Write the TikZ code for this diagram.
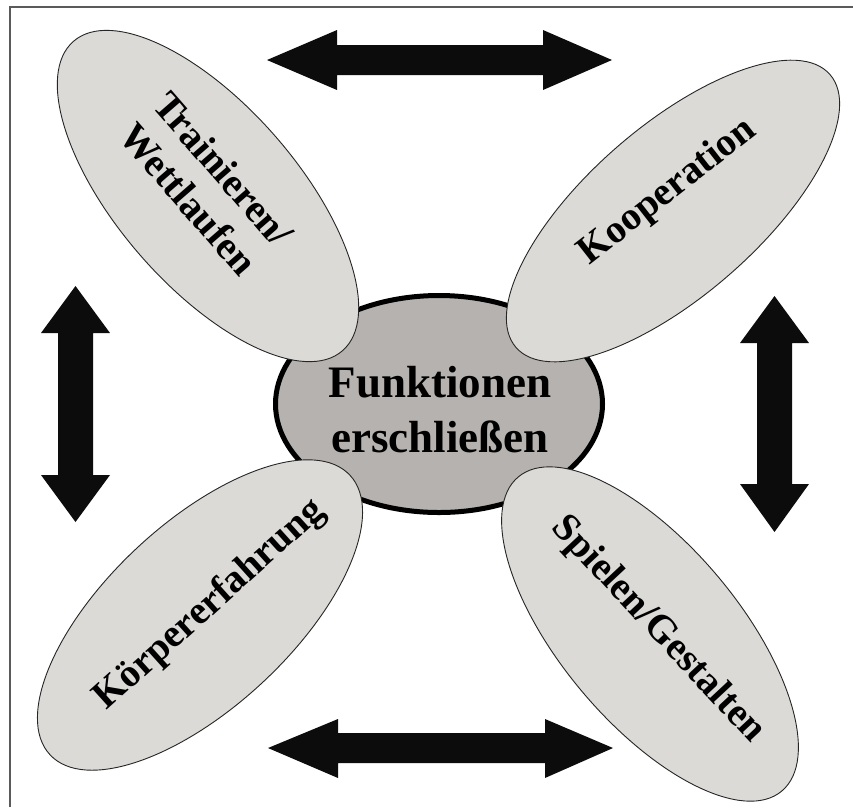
\documentclass[tikz,border=0pt]{standalone}
\usepackage{fontspec}
\setmainfont{Liberation Serif}
\usetikzlibrary{shapes.geometric}
\definecolor{petalfill}{RGB}{220,218,215}
\definecolor{corefill}{RGB}{182,178,175}
\definecolor{frameline}{RGB}{90,90,90}
\definecolor{arrowfill}{RGB}{12,12,12}
\begin{document}
\begin{tikzpicture}[x=1pt,y=-1pt,
  petal/.style={ellipse, draw=black!85, line width=0.9pt, fill=petalfill, inner sep=0pt},
  plabel/.style={font=\fontsize{39.5}{46}\selectfont\bfseries, align=center, text=black, inner sep=0pt},
  corelabel/.style={font=\fontsize{45}{55}\selectfont\bfseries, align=center, text=black, inner sep=0pt},
  dblarrow/.style={fill=arrowfill, draw=none}]
\useasboundingbox (0,0) rectangle (853,807);
\fill[white] (0,0) rectangle (853,807);
\draw[frameline, line width=2pt] (10,807) -- (10,7) -- (853,7);

% central ellipse
\node[ellipse, draw=black, line width=5pt, fill=corefill, minimum width=327pt, minimum height=217pt, inner sep=0pt] (core) at (439,404) {};

% petals
\node[petal, rotate=-49, minimum width=410pt, minimum height=180pt] (tl) at (208,196) {};
\node[petal, rotate=41, minimum width=416pt, minimum height=170pt] (tr) at (673,211) {};
\node[petal, rotate=43, minimum width=410pt, minimum height=184pt] (bl) at (200,615) {};
\node[petal, rotate=-50, minimum width=410pt, minimum height=178pt] (br) at (650,634) {};

% labels
\node[corelabel] (coretext) at (440,410) {Funktionen\\erschließen};
\node[plabel, rotate=-49] (tltext) at (206,184) {Trainieren/\\Wettlaufen};
\node[plabel, rotate=38] (trtext) at (668,192) {Kooperation};
\node[plabel, rotate=42] (bltext) at (210,605) {Körpererfahrung};
\node[plabel, rotate=-47] (brtext) at (658,630) {Spielen/Gestalten};

% double arrows
\fill[dblarrow] (267,60) -- (337,30) -- (337,45) -- (543,45) -- (543,30) -- (612,60) -- (543,90) -- (543,75) -- (337,75) -- (337,90) -- cycle;
\fill[dblarrow] (268,748) -- (338,719) -- (338,733) -- (545,733) -- (545,719) -- (613,748) -- (545,778) -- (545,763) -- (338,763) -- (338,778) -- cycle;
\fill[dblarrow] (75.5,286) -- (110,333) -- (93,333) -- (93,475) -- (110,475) -- (75.5,522) -- (41,475) -- (58,475) -- (58,333) -- (41,333) -- cycle;
\fill[dblarrow] (774.5,296) -- (809,343) -- (792,343) -- (792,484) -- (809,484) -- (774.5,532) -- (740,484) -- (757,484) -- (757,343) -- (740,343) -- cycle;
\end{tikzpicture}
\end{document}
